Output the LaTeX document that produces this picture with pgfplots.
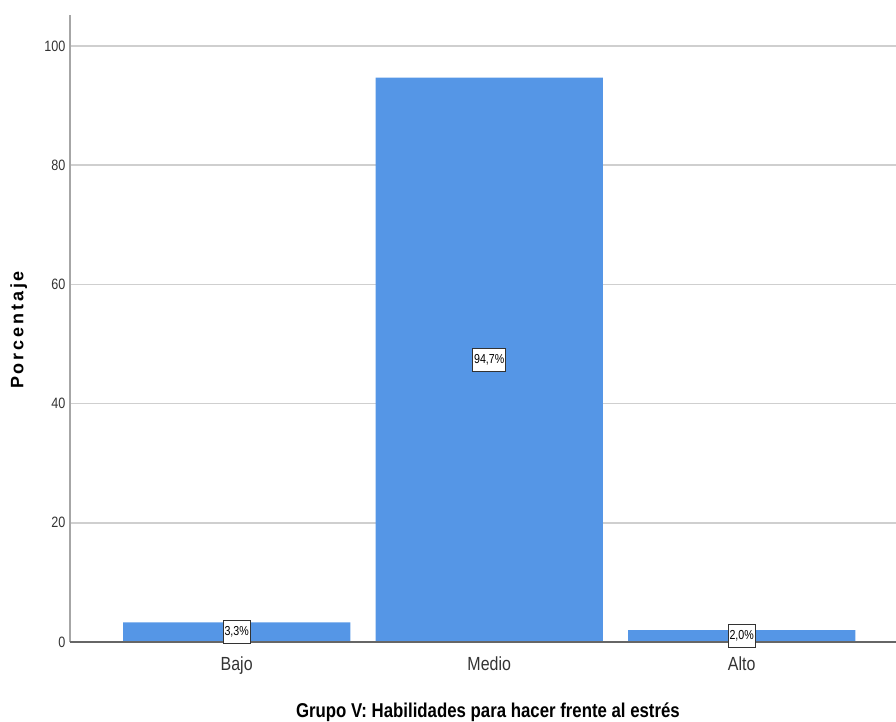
\documentclass[border=0pt]{standalone}
\usepackage{pgfplots}
\pgfplotsset{compat=1.18}
\usepackage{fontspec}
\setmainfont{Liberation Sans}
\newfontfamily\narrowfont[FakeStretch=0.84]{Liberation Sans}
\newfontfamily\tinyfont[FakeStretch=0.82]{Liberation Sans}
\newfontfamily\spacedfont[LetterSpace=16]{Liberation Sans}
\definecolor{barblue}{HTML}{5596E6}
\definecolor{gridgray}{HTML}{CFCFCF}
\definecolor{txtgray}{HTML}{333333}
\begin{document}
\begin{tikzpicture}
\useasboundingbox (0,0) rectangle (896bp,722bp);
\begin{axis}[
  at={(70bp,80bp)}, anchor=south west,
  scale only axis, width=826bp, height=627bp,
  xmin=-0.66, xmax=2.611, ymin=0, ymax=105.2,
  axis line style={draw=none},
  axis x line*=bottom, axis y line*=left,
  xtick={0,1,2}, xticklabels={Bajo,Medio,Alto},
  ytick={0,20,40,60,80,100},
  major tick length=0pt,
  ymajorgrids, grid style={gridgray, line width=1.6bp},
  xticklabel style={font=\narrowfont\fontsize{19bp}{22bp}\selectfont, text=txtgray, yshift=-11bp},
  yticklabel style={font=\narrowfont\fontsize{15bp}{18bp}\selectfont, text=txtgray, xshift=-1bp},
  /pgf/number format/assume math mode=true,
  xlabel={Grupo V: Habilidades para hacer frente al estrés},
  xlabel style={font=\narrowfont\bfseries\fontsize{20bp}{24bp}\selectfont, at={(axis description cs:0.506,-0.1117)}, anchor=center},
  ylabel={Porcentaje},
  ylabel style={font=\spacedfont\bfseries\fontsize{18bp}{21bp}\selectfont, at={(axis description cs:-0.062,0.4976)}, anchor=center, rotate=0},
  clip=false,
]
\draw[color=gray!70, line width=1.5bp] (axis cs:-0.66,0) -- (axis cs:-0.66,105.2);
\addplot[ybar, bar width=0.9, fill=barblue, draw=none, bar shift=0pt]
  coordinates {(0,3.3) (1,94.7) (2,2.0)};
\draw[color=black!60, line width=1.5bp] (axis cs:-0.66,0) -- (axis cs:2.611,0);
\addplot[only marks, mark=none, point meta=explicit,
  nodes near coords={\pgfmathprintnumber[fixed,fixed zerofill,precision=1,use comma]{\pgfplotspointmeta}\%},
  every node near coord/.style={anchor=center, fill=white, draw=black!80, line width=1bp,
    inner xsep=1.5bp, inner ysep=6bp, font=\tinyfont\fontsize{13bp}{15bp}\selectfont, text=black}]
  coordinates {(0,1.65) [3.3] (1,47.35) [94.7] (2,1.0) [2.0]};
\end{axis}
\end{tikzpicture}
\end{document}
